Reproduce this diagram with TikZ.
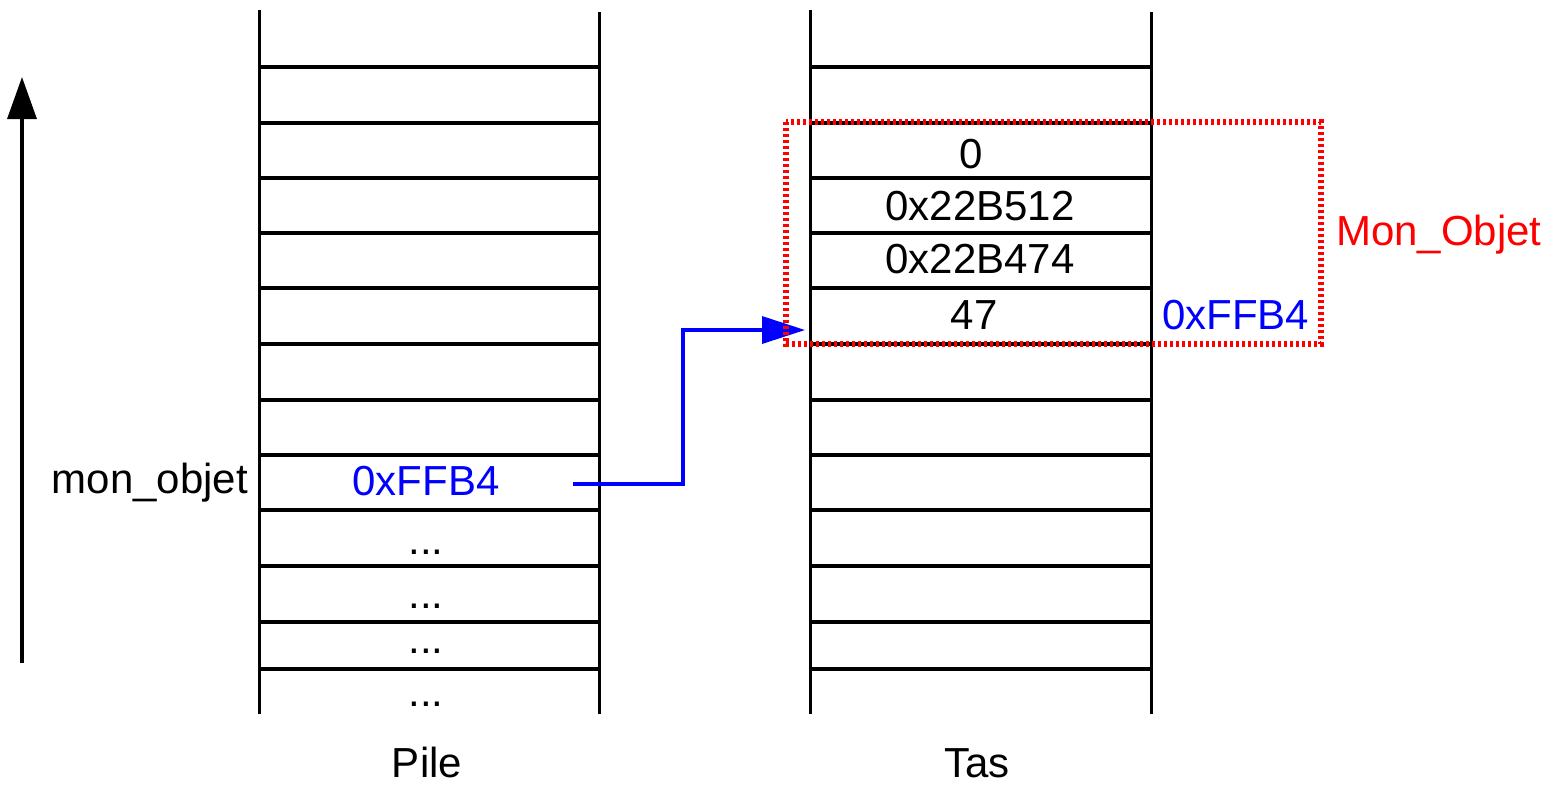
\documentclass[tikz,border=0pt]{standalone}
\usepackage{fontspec}
\setmainfont{Liberation Sans}
\usetikzlibrary{arrows.meta}
\definecolor{pblue}{RGB}{0,0,255}
\definecolor{pred}{RGB}{255,0,0}
\begin{document}
\begin{tikzpicture}[x=0.5pt,y=-0.5pt,
  every node/.style={inner sep=0pt,outer sep=0pt,font=\fontsize{21}{25}\selectfont},
  wall/.style={line width=1.5pt,black},
  rowline/.style={line width=1.6pt,black},
  lbl/.style={anchor=base},
  ptrline/.style={line width=1.7pt,pblue,-{Triangle[length=21.5pt,width=13.5pt]}},
  objbox/.style={line width=2.6pt,pred,dash pattern=on 1.7pt off 1.3pt}
]
\useasboundingbox (0,0) rectangle (1562,784);
% axis arrow
\coordinate (axb) at (22,663);
\coordinate (axt) at (22,77);
\draw[line width=1.7pt,-{Triangle[length=21pt,width=14.5pt]}] (axb) -- (axt);
% Pile walls
\draw[wall] (259,10) -- (259,714);
\draw[wall] (599,12) -- (599,714);
% Tas walls
\draw[wall] (810,10) -- (810,714);
\draw[wall] (1151,12) -- (1151,714);
% row lines
\foreach \y in {67,123,178,233,288,344,400,455,510,566,622,669}{
  \draw[rowline] (259,\y) -- (599,\y);
  \draw[rowline] (810,\y) -- (1151,\y);
}
% Pile texts
\node[lbl,anchor=base east] (monobj) at (248,493) {mon\_objet};
\node[lbl,text=pblue] (ptr) at (426,495) {0xFFB4};
\node[lbl] (d1) at (426,554) {...};
\node[lbl] (d2) at (426,608) {...};
\node[lbl] (d3) at (426,653) {...};
\node[lbl] (d4) at (426,706) {...};
\node[lbl] (pile) at (427,777) {Pile};
% Tas texts
\node[lbl] (v0) at (971,168) {0};
\node[lbl] (v1) at (980,220) {0x22B512};
\node[lbl] (v2) at (980,273) {0x22B474};
\node[lbl] (v3) at (974,329) {47};
\node[lbl,anchor=base west,text=pblue] (addr) at (1162,329) {0xFFB4};
\node[lbl,anchor=base west,text=pred] (objname) at (1336,245) {Mon\_Objet};
\node[lbl] (tas) at (977,777) {Tas};
% pointer connector
\coordinate (ptrstart) at (573,484);
\coordinate (target) at (805,330);
\draw[ptrline] (ptrstart) -- (683,484) |- (target);
% object box
\draw[objbox] (786,122) rectangle (1321,344);
\end{tikzpicture}
\end{document}
